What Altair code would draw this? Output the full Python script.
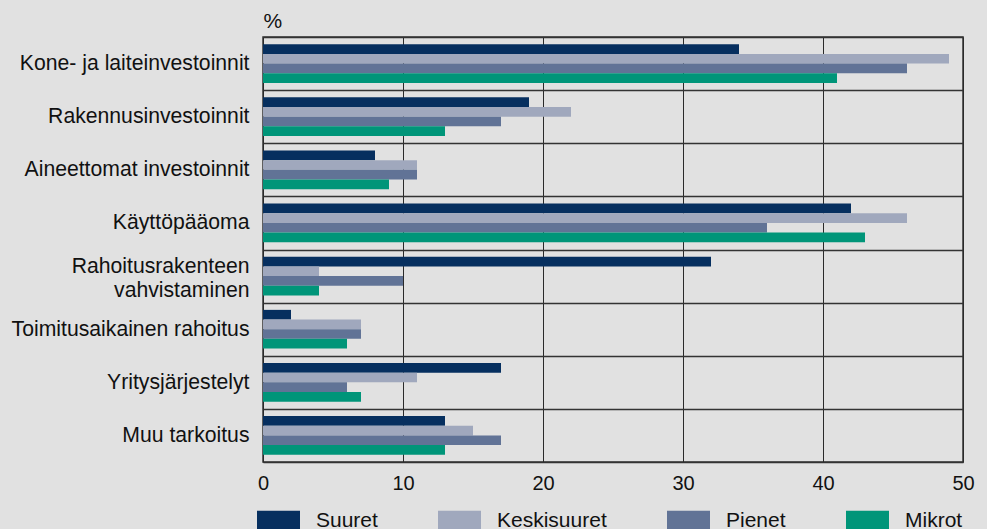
import altair as alt
import pandas as pd

categories = [
    "Kone- ja laiteinvestoinnit",
    "Rakennusinvestoinnit",
    "Aineettomat investoinnit",
    "Käyttöpääoma",
    "Rahoitusrakenteen\nvahvistaminen",
    "Toimitusaikainen rahoitus",
    "Yritysjärjestelyt",
    "Muu tarkoitus",
]
series = ["Suuret", "Keskisuuret", "Pienet", "Mikrot"]
suuret = [34, 19, 8, 42, 32, 2, 17, 13]
keskisuuret = [49, 22, 11, 46, 4, 7, 11, 15]
pienet = [46, 17, 11, 36, 10, 7, 6, 17]
mikrot = [41, 13, 9, 43, 4, 6, 7, 13]
colors = ["#062F5F", "#A0A8BD", "#617396", "#009579"]
x_ticks = [0, 10, 20, 30, 40, 50]

rows = []
for s, vals in zip(series, [suuret, keskisuuret, pienet, mikrot]):
    for c, v in zip(categories, vals):
        rows.append({"category": c, "series": s, "value": v})
df = pd.DataFrame(rows)

FONT = "Liberation Sans"
BG = "#E1E1E1"

# page background grey (wrap the standard html template)
try:
    from altair.utils import html as _alt_html

    _std = _alt_html.TEMPLATES["standard"]

    class _BgTemplate:
        def render(self, *args, **kwargs):
            out = _std.render(*args, **kwargs)
            return out.replace(
                "<style>", "<style>\n    body { background: %s; }" % BG, 1
            )

    _alt_html.TEMPLATES["standard"] = _BgTemplate()
except Exception:
    pass

chart = (
    alt.Chart(df)
    .mark_bar()
    .encode(
        x=alt.X(
            "value:Q",
            scale=alt.Scale(domain=[0, 50], nice=False),
            axis=alt.Axis(
                values=x_ticks,
                title=None,
                grid=True,
                gridColor="#2a2a2a",
                gridOpacity=1,
                ticks=False,
                domain=False,
                labelFlush=False,
                labelFontSize=20,
                labelPadding=11,
                labelColor="#111111",
                labelFont=FONT,
            ),
        ),
        y=alt.Y(
            "category:N",
            sort=categories,
            scale=alt.Scale(paddingInner=0, paddingOuter=0),
            axis=alt.Axis(
                title="%",
                titleAngle=0,
                titleX=0,
                titleY=-10,
                titleAlign="left",
                titleBaseline="alphabetic",
                titleFontSize=21,
                titleFont=FONT,
                titleFontWeight="normal",
                titleColor="#111111",
                grid=True,
                gridColor="#333333",
                gridOpacity=1,
                gridWidth=1.5,
                tickBand="extent",
                ticks=False,
                domain=False,
                labelFontSize=21.2,
                labelPadding=14,
                labelColor="#111111",
                labelFont=FONT,
                labelLimit=400,
                labelLineHeight=24,
                labelExpr="split(datum.label, '\\n')",
                labelOffset={
                    "condition": {
                        "test": "indexof('' + datum.value, 'vahvist') >= 0",
                        "value": -10,
                    },
                    "value": 0,
                },
            ),
        ),
        yOffset=alt.YOffset(
            "series:N",
            sort=series,
            scale=alt.Scale(paddingOuter=0.75, paddingInner=0),
        ),
        color=alt.Color(
            "series:N",
            sort=series,
            scale=alt.Scale(domain=series, range=colors),
            legend=alt.Legend(
                title=None,
                orient="none",
                legendX=-6,
                legendY=462,
                direction="horizontal",
                symbolType="M-1,-0.46H1V0.46H-1Z",
                symbolSize=1849,
                symbolStrokeWidth=0,
                symbolOpacity=1,
                labelFontSize=21,
                labelFont=FONT,
                labelColor="#111111",
                labelOffset=16,
                columnPadding=60,
            ),
        ),
    )
    .properties(
        width=700,
        height=425,
        background=BG,
        autosize=alt.AutoSizeParams(type="none"),
        padding={"left": 255, "top": 29, "right": 16, "bottom": 70},
    )
    .configure_view(stroke="#333333", strokeWidth=1.5)
)

chart.save("out.html", embed_options={"renderer": "svg", "actions": False})
